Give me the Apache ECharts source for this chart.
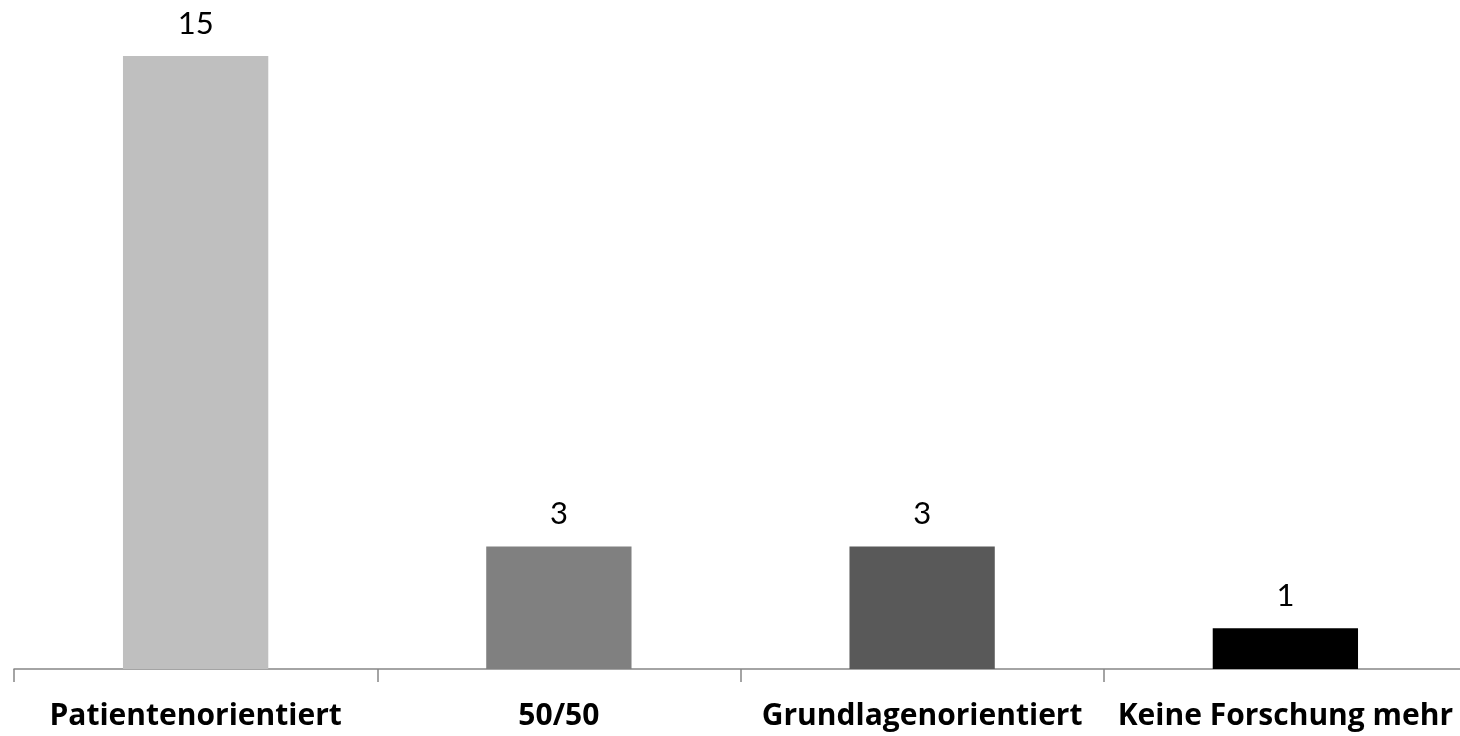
<!DOCTYPE html>
<html><head><meta charset="utf-8">
<script src="https://cdn.jsdelivr.net/npm/echarts@6/dist/echarts.min.js"></script>
<style>html,body{margin:0;padding:0;background:#fff;overflow:hidden;width:1460px;height:736px}#c{width:1468px;height:736px}</style>
</head><body><div id="c"></div>
<script>
const categories = ["Patientenorientiert", "50/50", "Grundlagenorientiert", "Keine Forschung mehr"];
const values = [15, 3, 3, 1];
const barColors = ["#BFBFBF", "#808080", "#595959", "#000000"];

const chart = echarts.init(document.getElementById('c'));
chart.setOption({
  animation: false,
  grid: {left: 14, right: 1, top: 56, height: 613, containLabel: false},
  xAxis: {
    type: 'category', data: categories,
    axisLine: {show: true, lineStyle: {color: '#868686', width: 1.5}},
    axisTick: {show: true, length: 13, lineStyle: {color: '#868686', width: 1.5}},
    axisLabel: {fontFamily: 'Open Sans', fontWeight: 'bold', fontSize: 30, color: '#000', margin: 32, interval: 0}
  },
  yAxis: {type: 'value', min: 0, max: 15, show: false, splitLine: {show: false}},
  series: [{
    type: 'bar', barWidth: '40%',
    data: values.map((v, i) => ({value: v, itemStyle: {color: barColors[i]}})),
    label: {show: true, position: 'top', distance: 17, fontFamily: 'Lato', fontSize: 31, color: '#000'}
  }]
});
</script></body></html>
